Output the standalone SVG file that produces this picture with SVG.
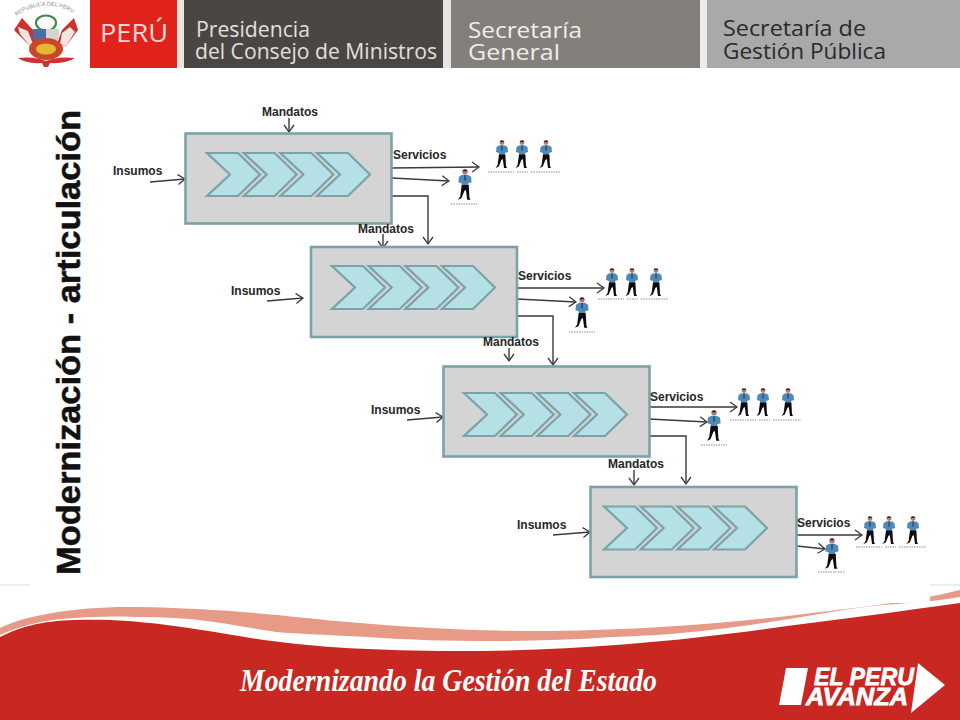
<svg xmlns="http://www.w3.org/2000/svg" width="960" height="720" viewBox="0 0 960 720">
<style>
.lbl{font:bold 12px "Liberation Sans",Arial,sans-serif;fill:#262626}
.hd{font-family:"Open Sans","Noto Sans",sans-serif;font-size:21.500px}
.cap{stroke:#8a8a8a;stroke-width:1;stroke-dasharray:1.5 1;fill:none}
.conn{fill:none;stroke:#3a3a3a;stroke-width:1.4;marker-end:url(#open)}
.ev{font:bold italic 24.500px "Liberation Sans",Arial,sans-serif;fill:#fff;stroke:#fff;stroke-width:.8}
.box{fill:#d4d4d4;stroke:#7ba3a7;stroke-width:2.6}
</style>
<defs>
<marker id="open" markerUnits="userSpaceOnUse" markerWidth="10" markerHeight="12" viewBox="-8 -6 10 12" refX="0" refY="0" orient="auto" overflow="visible">
<path d="M-7,-5 L0,0 L-7,5" fill="none" stroke="#3a3a3a" stroke-width="1.3"/>
</marker>
<polygon id="chev" points="0,0 31,0 53,21.500 31,43 0,43 23,21.500" fill="#b5e0e6" stroke="#79a3a6" stroke-width="2.2"/>
<g id="chevs">
<use href="#chev" x="0"/><use href="#chev" x="36.700"/><use href="#chev" x="73.400"/><use href="#chev" x="110"/>
</g>
<g id="man">
<circle cx="0" cy="2.600" r="2.400" fill="#b77a60"/>
<path d="M-2.300,2 A2.400,2.400 0 0 1 2.300,2 Z" fill="#3a2a22"/>
<path d="M-2.500,5.200 L2.500,5.200 L5.500,7 L6,12 L3,13 L3,15 L-3,15 L-3,13 L-6,12 L-5.500,7 Z" fill="#5089b8"/>
<path d="M-0.500,5.500 L0.500,5.500 L0.600,10 L0,11 L-0.600,10 Z" fill="#26384a"/>
<path d="M-3,14.500 L3.400,14.500 L4,26 L5,28 L2,28 L0.800,19 L-0.600,20 L-3.200,26.600 L-6.500,28 L-4.400,25 Z" fill="#0c0c10"/>
</g>
</defs>

<rect width="960" height="720" fill="#fff"/>

<g id="footer">
<path d="M0,637 C20,627 40,621 75,620 C130,618 180,626 245,637 C300,646 360,650 440,651 C540,652 640,645 735,633 C810,623 890,613 960,603 L960,720 L0,720 Z" fill="#c92722"/>
<path d="M0,628 C25,615 80,606 135,607 C200,608 250,612 306,618 C370,625 470,632 551,631 C640,630 720,624 796,615 C850,608 910,603 960,590 L960,597 C920,604 890,603 857,608 C810,615 775,622 735,627 C690,633 650,636 612,637 C570,640 530,641 490,641 C450,641 410,640 367,637 C330,635 300,634 276,632 C250,628 235,625 214,622 C190,618 160,617 135,617 C110,616 85,617 61,619 C35,622 15,628 0,635 Z" fill="#e79a86"/>
<path d="M0,585 H30 M930,585 H960" stroke="#cfe0ea" stroke-width="1"/>
<rect x="30" y="68" width="900" height="535" fill="#fff"/>
<text x="240" y="691" font-family="'Liberation Serif',serif" font-style="italic" font-weight="bold" font-size="32" fill="#fff" textLength="417" lengthAdjust="spacingAndGlyphs">Modernizando la Gestión del Estado</text>
<g id="logo-avanza">
<polygon points="786,668 808,668 801,705 779,705" fill="#fff"/>
<polygon points="918,663 945,685 911,713" fill="#fff"/>
<text class="ev" x="814" y="685" textLength="100" lengthAdjust="spacingAndGlyphs">EL PERU</text>
<text class="ev" x="806" y="705" textLength="102" lengthAdjust="spacingAndGlyphs">AVANZA</text>
</g>
</g>

<g id="header">
<rect x="0" y="0" width="90" height="68" fill="#fff"/>
<g id="escudo">
<path id="arc" d="M12,20 A50,50 0 0 1 82,20" fill="none"/>
<text font-family="'Liberation Sans',sans-serif" font-size="5.500" fill="#8a8a8a"><textPath href="#arc" startOffset="6">REPUBLICA DEL PERU</textPath></text>
<polygon points="22,18 33,30 38,44 30,46 14,30" fill="#cf3030"/>
<polygon points="74,18 62,30 57,44 66,46 78,30" fill="#cf3030"/>
<polygon points="18,27 28,31 33,44 30,46 20,34" fill="#efe6e0"/>
<polygon points="70,27 62,33 60,44 66,46 75,32" fill="#efe6e0"/>
<ellipse cx="46" cy="23" rx="10" ry="7.500" fill="none" stroke="#3f8a4a" stroke-width="2.200"/>
<rect x="33" y="29" width="13" height="11" fill="#4a6fa5"/>
<rect x="46" y="29" width="13" height="11" fill="#d8d4cc"/>
<ellipse cx="46" cy="49" rx="17" ry="11" fill="#c9482a"/>
<ellipse cx="46" cy="49" rx="10" ry="5.500" fill="#e4b833"/>
<path d="M18,58 Q34,56 46,61 Q58,56 75,58 Q66,64 50,63 L48,67 L44,67 L42,63 Q26,64 18,58 Z" fill="#cf3030"/>
</g>
<rect x="90" y="0" width="87" height="68" fill="#e0241c"/>
<rect x="177" y="0" width="7" height="68" fill="#e8e4e2"/>
<rect x="184" y="0" width="259" height="68" fill="#4a4644"/>
<rect x="443" y="0" width="8" height="68" fill="#e4e4e4"/>
<rect x="451" y="0" width="249" height="68" fill="#83807c"/>
<rect x="700" y="0" width="7" height="68" fill="#ececec"/>
<rect x="707" y="0" width="253" height="68" fill="#a9a9a9"/>
<text x="100" y="42" font-family="'Open Sans',sans-serif" font-size="25" fill="#f7dcd8" textLength="68" lengthAdjust="spacingAndGlyphs">PERÚ</text>
<text class="hd" x="196" y="37" fill="#e2e0de" textLength="114" lengthAdjust="spacingAndGlyphs">Presidencia</text>
<text class="hd" x="195" y="59" fill="#e2e0de" textLength="242" lengthAdjust="spacingAndGlyphs">del Consejo de Ministros</text>
<text class="hd" x="468" y="38" fill="#f0eeea" textLength="114" lengthAdjust="spacingAndGlyphs">Secretaría</text>
<text class="hd" x="468" y="60" fill="#f0eeea" textLength="92" lengthAdjust="spacingAndGlyphs">General</text>
<text class="hd" x="723" y="36" fill="#2a2a2a" textLength="143" lengthAdjust="spacingAndGlyphs">Secretaría de</text>
<text class="hd" x="723" y="59" fill="#2a2a2a" textLength="163" lengthAdjust="spacingAndGlyphs">Gestión Pública</text>
</g>

<text id="titulo" transform="translate(80,575) rotate(-90)" font-family="'Liberation Sans',Arial,sans-serif" font-weight="bold" font-size="33" fill="#111" stroke="#111" stroke-width=".5" textLength="465" lengthAdjust="spacingAndGlyphs">Modernización - articulación</text>

<g id="connectors">
<path class="conn" d="M289,118 V132"/>
<path class="conn" d="M150,182 L185,179"/>
<path class="conn" d="M392,168 L479,167"/>
<path class="conn" d="M392,178 L449,181"/>
<path class="conn" d="M392,196 H428 V244"/>
<path class="conn" d="M383,234 V248"/>
<path class="conn" d="M267,301 L303,298"/>
<path class="conn" d="M517,288 H604"/>
<path class="conn" d="M517,299 L576,302"/>
<path class="conn" d="M517,316 H553 V365"/>
<path class="conn" d="M509,348 V361"/>
<path class="conn" d="M407,420 L443,417"/>
<path class="conn" d="M649,407 H737"/>
<path class="conn" d="M649,419 L707,422"/>
<path class="conn" d="M649,436 H686 V484"/>
<path class="conn" d="M634,470 V485"/>
<path class="conn" d="M553,535 L590,532"/>
<path class="conn" d="M797,535 H862"/>
<path class="conn" d="M797,546 L825,549"/>
</g>

<g id="proceso-1">
<rect class="box" x="185.500" y="133.500" width="206" height="90"/>
<use href="#chevs" x="207" y="153"/>
<text class="lbl" x="262" y="116">Mandatos</text>
<text class="lbl" x="113" y="175">Insumos</text>
<text class="lbl" x="393" y="159">Servicios</text>
</g>
<g id="proceso-2">
<rect class="box" x="311" y="247" width="206" height="90"/>
<use href="#chevs" x="332" y="266"/>
<text class="lbl" x="358" y="233">Mandatos</text>
<text class="lbl" x="231" y="295">Insumos</text>
<text class="lbl" x="518" y="280">Servicios</text>
</g>
<g id="proceso-3">
<rect class="box" x="443.500" y="366.500" width="206" height="90"/>
<use href="#chevs" x="464" y="393"/>
<text class="lbl" x="483" y="346">Mandatos</text>
<text class="lbl" x="371" y="414">Insumos</text>
<text class="lbl" x="650" y="401">Servicios</text>
</g>
<g id="proceso-4">
<rect class="box" x="590.500" y="487" width="206" height="90"/>
<use href="#chevs" x="604" y="506.500"/>
<text class="lbl" x="608" y="468">Mandatos</text>
<text class="lbl" x="517" y="529">Insumos</text>
<text class="lbl" x="797" y="527">Servicios</text>
</g>

<g id="usuarios-1">
<use href="#man" x="502" y="140"/><use href="#man" x="522" y="140"/><use href="#man" x="546" y="140"/>
<path class="cap" d="M488,172 H514 M517,172 H528 M531,172 H560"/>
<use href="#man" transform="translate(465,169) scale(1.1)"/>
<path class="cap" d="M451,204 H478"/>
</g>
<g id="usuarios-2">
<use href="#man" x="612" y="268"/><use href="#man" x="632" y="268"/><use href="#man" x="656" y="268"/>
<path class="cap" d="M598,299 H624 M627,299 H638 M641,299 H668"/>
<use href="#man" transform="translate(582,297) scale(1.1)"/>
<path class="cap" d="M569,332 H595"/>
</g>
<g id="usuarios-3">
<use href="#man" x="744" y="388"/><use href="#man" x="763" y="388"/><use href="#man" x="788" y="388"/>
<path class="cap" d="M730,420 H756 M759,420 H770 M773,420 H801"/>
<use href="#man" transform="translate(714,410) scale(1.1)"/>
<path class="cap" d="M701,445 H727"/>
</g>
<g id="usuarios-4">
<use href="#man" x="870" y="516"/><use href="#man" x="889" y="516"/><use href="#man" x="913" y="516"/>
<path class="cap" d="M856,547 H882 M885,547 H896 M899,547 H926"/>
<use href="#man" transform="translate(832,538) scale(1.1)"/>
<path class="cap" d="M818,572 H845"/>
</g>
</svg>
